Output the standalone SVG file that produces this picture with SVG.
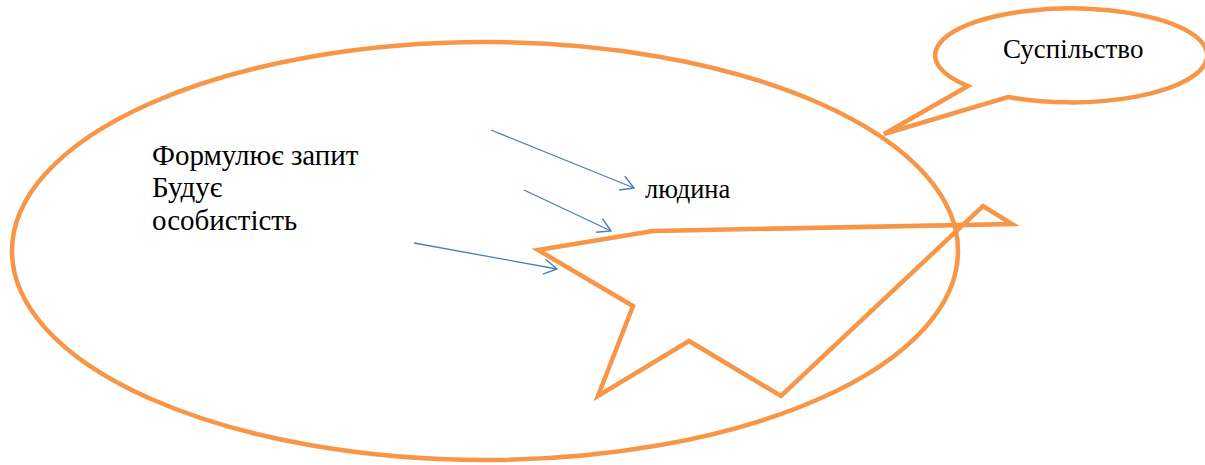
<svg xmlns="http://www.w3.org/2000/svg" width="1205" height="465" viewBox="0 0 1205 465">
<style>
.shape{fill:none;stroke:#F79646;stroke-width:4.5;stroke-linejoin:miter}
.arr{fill:none;stroke:#4A7EBB;stroke-width:1.3}
.t{font-family:'Liberation Serif','Times New Roman',serif;fill:#000}
</style>
<defs>
<marker id="ah" viewBox="0 0 20 20" refX="15" refY="10" markerWidth="20" markerHeight="20" markerUnits="userSpaceOnUse" orient="auto">
<path d="M2,2.5 L15,10 L2,17.5" fill="none" stroke="#4A7EBB" stroke-width="1.4"/>
</marker>
</defs>
<rect width="1205" height="465" fill="#fff"/>
<g id="society-node">
<ellipse class="shape" cx="485" cy="251" rx="473" ry="209"/>
<text class="t" x="152" y="165" font-size="29">Формулює запит</text>
<text class="t" x="152" y="197" font-size="29">Будує</text>
<text class="t" x="152" y="230" font-size="29">особистість</text>
</g>
<g id="callout-node">
<path class="shape" d="M968,86 L884,134 L1008,97 A136,47 0 1 0 968,86 Z" fill="#fff"/>
<text class="t" x="1003" y="58" font-size="27">Суспільство</text>
</g>
<g id="star-node">
<polygon class="shape" points="538,250 653,231 1012,224 983,206 781,396 689,341 598,396 633,306"/>
<text class="t" x="645" y="198" font-size="26.5">людина</text>
</g>
<g id="connectors">
<line class="arr" x1="491" y1="130" x2="634" y2="188" marker-end="url(#ah)"/>
<line class="arr" x1="524" y1="190" x2="611" y2="231" marker-end="url(#ah)"/>
<line class="arr" x1="414" y1="243" x2="557" y2="269" marker-end="url(#ah)"/>
</g>
</svg>
